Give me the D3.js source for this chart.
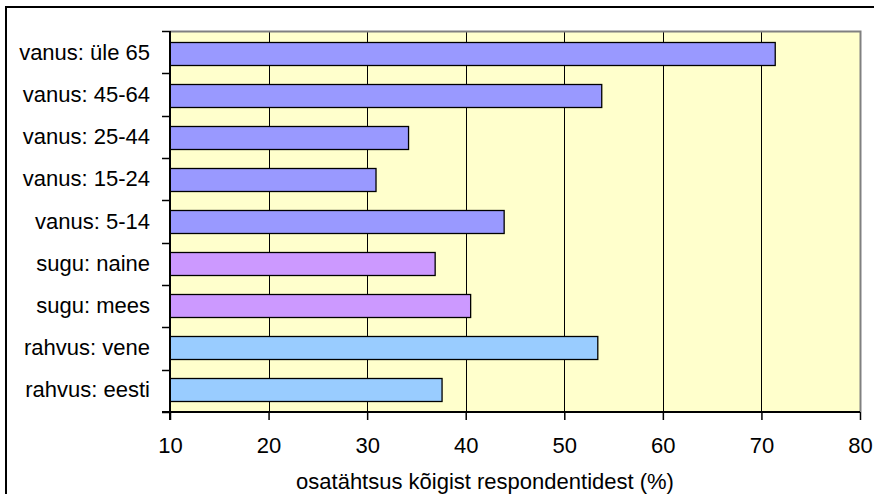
<!DOCTYPE html>
<html>
<head>
<meta charset="utf-8">
<script src="https://cdnjs.cloudflare.com/ajax/libs/d3/7.8.5/d3.min.js"></script>
<style>
  body { margin: 0; background: #fff; }
  text { font-family: Arial, "Liberation Sans", sans-serif; fill: #000; }
</style>
</head>
<body>
<svg width="874" height="494"></svg>
<script>
var categories = ["vanus: üle 65", "vanus: 45-64", "vanus: 25-44", "vanus: 15-24", "vanus: 5-14",
                  "sugu: naine", "sugu: mees", "rahvus: vene", "rahvus: eesti"];
var values = [71.4, 53.8, 34.2, 30.9, 43.9, 36.9, 40.5, 53.4, 37.6];
var groups = ["vanus", "vanus", "vanus", "vanus", "vanus", "sugu", "sugu", "rahvus", "rahvus"];
var xTicks = [10, 20, 30, 40, 50, 60, 70, 80];
var xTitle = "osatähtsus kõigist respondentidest (%)";

var svg = d3.select("svg"),
    width = +svg.attr("width"),
    height = +svg.attr("height");

var pLeft = 170, pRight = 860, pTop = 31, pBottom = 412;
var fontSize = "22px";

var color = d3.scaleOrdinal()
    .domain(["vanus", "sugu", "rahvus"])
    .range(["#9999FF", "#CC99FF", "#99CCFF"]);

var x = d3.scaleLinear().domain([10, 80]).range([pLeft, pRight]);
var y = d3.scaleBand().domain(categories).range([pTop, pBottom])
    .paddingInner(0.45).paddingOuter(0.25);

// outer frame
svg.append("rect")
    .attr("x", 6).attr("y", 7)
    .attr("width", width + 20).attr("height", height + 20)
    .attr("fill", "none").attr("stroke", "#000").attr("stroke-width", 2);

// plot background
svg.append("rect")
    .attr("x", pLeft).attr("y", pTop)
    .attr("width", pRight - pLeft).attr("height", pBottom - pTop)
    .attr("fill", "#FFFFCC");

// gridlines
svg.append("g")
  .selectAll("line")
  .data(xTicks.slice(1, -1))
  .enter().append("line")
    .attr("x1", function(d) { return Math.round(x(d)) + 0.5; })
    .attr("x2", function(d) { return Math.round(x(d)) + 0.5; })
    .attr("y1", pTop).attr("y2", pBottom)
    .attr("stroke", "#000").attr("stroke-width", 1);

// plot border (top / right gray)
svg.append("path")
    .attr("d", "M" + pLeft + "," + (pTop + 0.5) + "H" + (pRight + 0.5) + "V" + pBottom)
    .attr("fill", "none").attr("stroke", "#808080").attr("stroke-width", 2);

// bars
svg.append("g")
  .selectAll("rect")
  .data(categories)
  .enter().append("rect")
    .attr("x", x(10))
    .attr("y", function(d) { return Math.round(y(d)) + 0.5; })
    .attr("width", function(d, i) { return x(values[i]) - x(10); })
    .attr("height", Math.round(y.bandwidth()))
    .attr("fill", function(d, i) { return color(groups[i]); })
    .attr("stroke", "#000").attr("stroke-width", 1.3);

// left axis: labels at band centres, ticks at band boundaries
var yAxis = svg.append("g")
    .attr("transform", "translate(" + pLeft + ",0)")
    .call(d3.axisLeft(y).tickSize(0).tickPadding(20));
yAxis.select(".domain").remove();
yAxis.selectAll("text").attr("font-size", fontSize).style("font-family", "Arial, 'Liberation Sans', sans-serif");

var step = (pBottom - pTop) / categories.length;
var bounds = d3.range(categories.length + 1).map(function(i) { return pTop + i * step; });
svg.append("g")
  .selectAll("line")
  .data(bounds)
  .enter().append("line")
    .attr("x1", pLeft - 8).attr("x2", pLeft)
    .attr("y1", function(d) { return Math.round(d) + 0.5; })
    .attr("y2", function(d) { return Math.round(d) + 0.5; })
    .attr("stroke", "#000").attr("stroke-width", 1.5);
svg.append("line")
    .attr("x1", pLeft).attr("x2", pLeft)
    .attr("y1", pTop).attr("y2", pBottom + 8)
    .attr("stroke", "#000").attr("stroke-width", 2);

// bottom axis
var xAxis = svg.append("g")
    .attr("transform", "translate(0," + pBottom + ")")
    .call(d3.axisBottom(x).tickValues(xTicks).tickSize(8).tickPadding(17));
xAxis.select(".domain")
    .attr("d", "M" + (pLeft - 8) + ",0H" + pRight)
    .attr("stroke", "#000").attr("stroke-width", 2);
xAxis.selectAll(".tick line").attr("stroke", "#000").attr("stroke-width", 1.5);
xAxis.selectAll("text").attr("font-size", fontSize).style("font-family", "Arial, 'Liberation Sans', sans-serif");

// axis title
svg.append("text")
    .attr("x", 485).attr("y", 489)
    .attr("text-anchor", "middle")
    .attr("font-size", fontSize)
    .text(xTitle);
</script>
</body>
</html>
